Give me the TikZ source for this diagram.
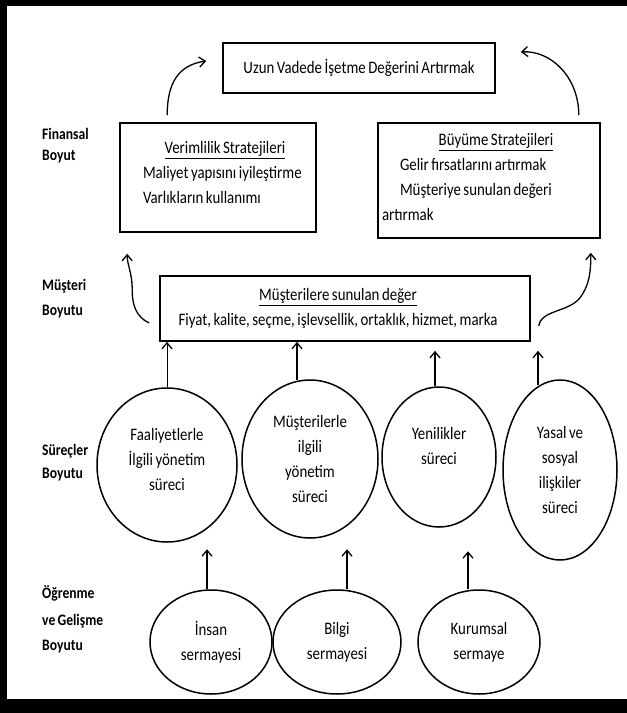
\documentclass[tikz,border=0pt]{standalone}
\usepackage{fontspec}
\setmainfont{Carlito}[FakeStretch=0.85,WordSpace=0.75]
\usetikzlibrary{shapes.geometric,arrows.meta,calc}
\begin{document}
\begin{tikzpicture}[x=1pt,y=-1pt,
  every node/.style={font=\fontsize{17.5}{25}\selectfont},
  box/.style={draw, line width=1.6pt, inner sep=0pt},
  oval/.style={draw, ellipse, line width=1.5pt, inner sep=0pt, align=center},
  dim/.style={font=\bfseries\fontsize{16}{25}\selectfont, align=left, anchor=west, inner sep=0pt},
  arr/.style={line width=1.3pt, -{Straight Barb[length=6pt,width=10pt,line width=1.3pt]}},
]
\useasboundingbox (0,0) rectangle (627,713);
\fill[white] (0,0) rectangle (627,713);
\fill[black] (0,0) rectangle (7,713);
\fill[black] (0,0) rectangle (627,6);
\fill[black] (0,699) rectangle (627,713);

% dimension labels
\node[dim] (lf1) at (42,134) {Finansal};
\node[dim] (lf2) at (42,157) {Boyut};
\node[dim] (lm1) at (42,286) {Müşteri};
\node[dim] (lm2) at (42,312) {Boyutu};
\node[dim] (ls1) at (42,451) {Süreçler};
\node[dim] (ls2) at (42,475) {Boyutu};
\node[dim] (lo1) at (42,593) {Öğrenme};
\node[dim] (lo2) at (42,621) {ve Gelişme};
\node[dim] (lo3) at (42,647) {Boyutu};

% boxes
\node[box, minimum width=272pt, minimum height=50pt] (uzun) at (359,68)
  {Uzun Vadede İşetme Değerini Artırmak};
\node[box, minimum width=196pt, minimum height=109pt, text width=190pt, align=flush left] (verim) at (218,177.5)
  {\hfill\hspace{14pt}\underline{Verimlilik Stratejileri}\hfill\null\\
   \hspace*{20pt}Maliyet yapısını iyileştirme\\
   \hspace*{20pt}Varlıkların kullanımı\\[-15pt]\mbox{}};
\node[box, minimum width=222pt, minimum height=115pt, text width=214pt, align=flush left] (buyume) at (489,180.5)
  {\hfill\hspace{14pt}\underline{Büyüme Stratejileri}\hfill\null\\
   \hspace*{18pt}Gelir fırsatlarını artırmak\\
   \hspace*{18pt}Müşteriye sunulan değeri\\
   artırmak\\[-18pt]\mbox{}};
\node[box, minimum width=370pt, minimum height=65pt, align=center] (must) at (345,308.5)
  {\underline{Müşterilere sunulan değer}\hspace*{14pt}\\
   Fiyat, kalite, seçme, işlevsellik, ortaklık, hizmet, marka\hspace*{14pt}};

% process ellipses
\node[oval, minimum width=140pt, minimum height=154pt] (e1) at (167,465)
  {Faaliyetlerle\\İlgili yönetim\\süreci\\[-14pt]\mbox{}};
\node[oval, minimum width=136pt, minimum height=158pt] (e2) at (310,459)
  {Müşterilerle\\ilgili\\yönetim\\süreci};
\node[oval, minimum width=114pt, minimum height=140pt] (e3) at (439,457)
  {Yenilikler\\süreci\\[-3pt]\mbox{}};
\node[oval, minimum width=114pt, minimum height=180pt] (e4) at (560,470)
  {Yasal ve\\sosyal\\ilişkiler\\süreci};

% capital circles
\node[oval, minimum width=122pt, minimum height=104pt] (c1) at (211,642) {İnsan\\sermayesi};
\node[oval, minimum width=128pt, minimum height=104pt] (c2) at (337,642) {Bilgi\\sermayesi};
\node[oval, minimum width=122pt, minimum height=104pt] (c3) at (479,642) {Kurumsal\\sermaye};

% vertical arrows to customer box
\draw[arr, line width=1pt] (e1.north) -- (e1.north |- must.south);
\draw[arr] ($(e2.north)+(-13,1)$) -- ($(e2.north |- must.south)+(-13,0)$);
\draw[arr] ($(e3.north)+(-4,0)$) -- ($(e3.north |- must.south)+(-4,9)$);
\draw[arr, line width=1.8pt] ($(e4.north)+(-22,6)$) -- ($(e4.north |- must.south)+(-22,9)$);

% arrows from capitals to processes
\draw[arr] ($(c1.north)+(-4,0)$) -- ($(c1.north)+(-4,-40)$);
\draw[arr] ($(c2.north)+(10,0)$) -- ($(c2.north)+(10,-40)$);
\draw[arr] ($(c3.north)+(-11,0)$) -- ($(c3.north)+(-11,-38)$);

% curved arrows customer -> financial
\coordinate (lsA) at ($(must.west)+(-10,14.5)$);
\coordinate (ltA) at ($(verim.south west)+(8,21)$);
\draw[arr] (lsA) .. controls +(-13,-6) and +(0,15) .. ($(lsA)+(-17,-33)$)
  .. controls +(0,-18) and +(0,12) .. (ltA);
\coordinate (rsA) at ($(must.east)+(8,17.5)$);
\coordinate (rtA) at ($(buyume.south east)+(-10,14)$);
\draw[arr] (rsA) .. controls +(2,-16) and +(-11,14) .. ($(rsA)+(41,-28)$)
  .. controls +(10,-13) and +(0,18) .. (rtA);

% curved arrows financial -> long term value
\coordinate (vtA) at ($(verim.north west)+(48,-7)$);
\coordinate (vhA) at ($(uzun.west)+(-16,-7)$);
\draw[arr] (vtA) .. controls +(0,-32) and +(-28,4) .. (vhA);
\coordinate (btA) at ($(buyume.north east)+(-22,-7)$);
\coordinate (bhA) at ($(uzun.east)+(25,-16)$);
\draw[arr] (btA) .. controls +(0,-38) and +(30,-2) .. (bhA);
\end{tikzpicture}
\end{document}
